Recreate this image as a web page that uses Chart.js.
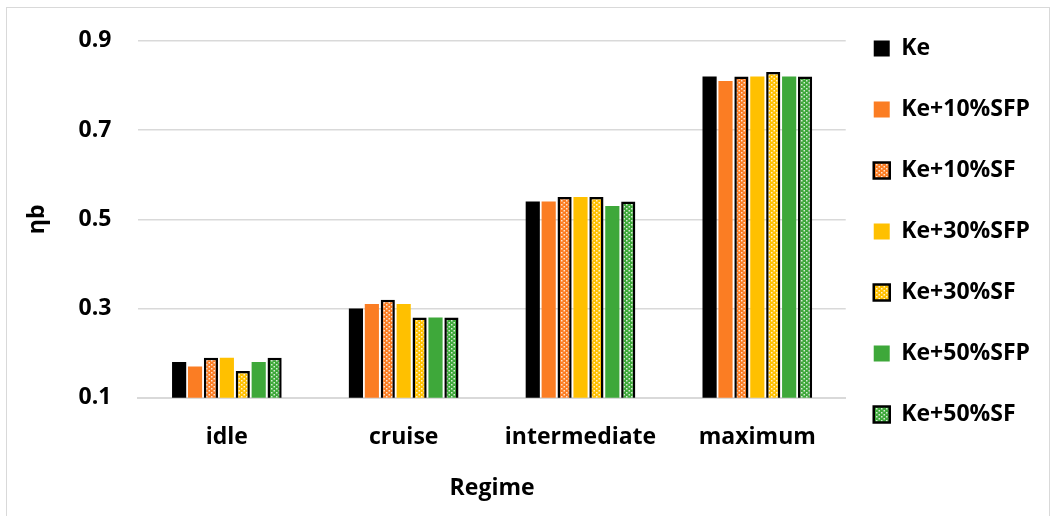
<!DOCTYPE html>
<html lang="en">

<head>
    <meta charset="UTF-8">
    <script src="https://cdn.jsdelivr.net/npm/chart.js@4.4.1/dist/chart.umd.min.js"></script>
    <title>Regime</title>
    <style>
        body { margin: 0; background: #fff; }
        #wrap { position: relative; width: 1053px; height: 516px; }
        #frame { position: absolute; left: 6px; top: 7px; width: 1042px; height: 515px; border: 1px solid #d9d9d9; pointer-events: none; }
    </style>
</head>

<body>
    <div id="wrap">
        <canvas id="myChart"></canvas>
        <div id="frame"></div>
    </div>

    <script>
        const regimes = ['idle', 'cruise', 'intermediate', 'maximum']
        const seriesNames = ['Ke', 'Ke+10%SFP', 'Ke+10%SF', 'Ke+30%SFP', 'Ke+30%SF', 'Ke+50%SFP', 'Ke+50%SF']
        const ke = [0.18, 0.30, 0.54, 0.82]
        const ke10sfp = [0.17, 0.31, 0.54, 0.81]
        const ke10sf = [0.19, 0.32, 0.55, 0.82]
        const ke30sfp = [0.19, 0.31, 0.55, 0.82]
        const ke30sf = [0.16, 0.28, 0.55, 0.83]
        const ke50sfp = [0.18, 0.28, 0.53, 0.82]
        const ke50sf = [0.19, 0.28, 0.54, 0.82]
        const yTicks = [0.1, 0.3, 0.5, 0.7, 0.9]

        const orange = '#fb7d23'
        const yellow = '#ffc000'
        const green = '#3ea83a'

        // dotted fill for the "SF" bars
        const dots = (color) => {
            const c = document.createElement('canvas')
            c.width = 5
            c.height = 4
            const x = c.getContext('2d')
            x.fillStyle = color
            x.fillRect(0, 0, 5, 4)
            x.fillStyle = 'rgba(255,255,255,0.8)'
            x.fillRect(1, 0, 1.5, 1.5)
            x.fillRect(3.5, 2, 1.5, 1.5)
            return x.createPattern(c, 'repeat')
        }

        const solid = (label, data, color) => ({
            label: label, data: data, backgroundColor: color, borderColor: color, borderWidth: 0
        })
        const dotted = (label, data, color) => ({
            label: label, data: data, backgroundColor: dots(color), borderColor: '#000', borderWidth: 2.5
        })

        const font = { family: 'Open Sans', weight: 'bold', size: 23 }

        // pull the legend a bit closer to the plot and up to the top
        const legendShift = {
            id: 'legendShift',
            afterLayout: (chart) => {
                chart.legend.left -= 10
                chart.legend.top -= 20
            }
        }

        const ctx = document.getElementById('myChart').getContext('2d')
        const myChart = new Chart(ctx, {
            type: 'bar',
            data: {
                labels: regimes,
                datasets: [
                    solid(seriesNames[0], ke, '#000'),
                    solid(seriesNames[1], ke10sfp, orange),
                    dotted(seriesNames[2], ke10sf, orange),
                    solid(seriesNames[3], ke30sfp, yellow),
                    dotted(seriesNames[4], ke30sf, yellow),
                    solid(seriesNames[5], ke50sfp, green),
                    dotted(seriesNames[6], ke50sf, green)
                ]
            },
            plugins: [legendShift],
            options: {
                responsive: true,
                maintainAspectRatio: false,
                animation: false,
                datasets: { bar: { categoryPercentage: 0.63, barPercentage: 0.89 } },
                layout: { padding: { left: 20, right: 3, top: 19, bottom: 10 } },
                plugins: {
                    tooltip: { enabled: false },
                    legend: {
                        position: 'right',
                        align: 'start',
                        labels: {
                            color: '#000',
                            font: font,
                            boxWidth: 16,
                            boxHeight: 16,
                            padding: 38
                        }
                    }
                },
                scales: {
                    x: {
                        grid: { display: false },
                        border: { display: true, color: '#d9d9d9', width: 2 },
                        ticks: { color: '#000', font: font, padding: 18 },
                        title: { display: true, text: 'Regime', color: '#000', font: font, padding: { top: 5 } }
                    },
                    y: {
                        min: 0.1,
                        max: 0.9,
                        afterBuildTicks: (axis) => { axis.ticks = yTicks.map(v => ({ value: v })) },
                        grid: { color: '#d9d9d9', lineWidth: 1.5, drawTicks: false },
                        border: { display: false },
                        ticks: { color: '#000', font: font, padding: 27, callback: (v) => v.toFixed(1) },
                        title: { display: true, text: 'ηb', color: '#000', font: font, padding: { bottom: 0 } }
                    }
                }
            }
        })
    </script>
</body>

</html>
